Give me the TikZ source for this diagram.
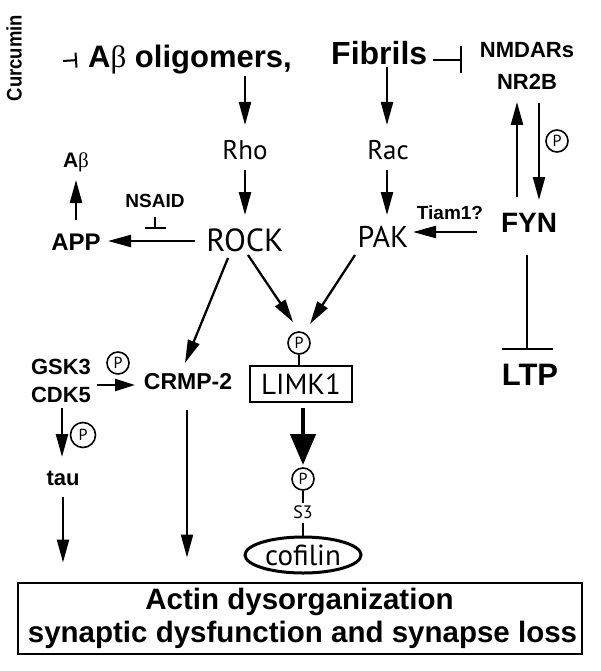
\documentclass[tikz,border=0pt]{standalone}
\usepackage{fontspec}
\setmainfont{Liberation Sans}
\newfontfamily\regf{PT Sans}
\newfontfamily\grk{Liberation Serif}
\usetikzlibrary{arrows.meta,shapes.geometric,calc}
\newcommand{\fs}[1]{\fontsize{#1}{#1}\selectfont}
\newcommand{\fsb}[2]{\fontsize{#1}{#2}\selectfont}
\begin{document}
\begin{tikzpicture}[x=1pt,y=-1pt,
  lbl/.style={inner sep=1pt},
  arr/.style={line width=2.3pt,-{Triangle[length=23pt,width=12pt]}},
  bigarr/.style={line width=4.5pt,-{Triangle[length=31pt,width=25pt]}},
  inh/.style={line width=2pt,-{Bar[width=#1]}},
  conn/.style={line width=1.6pt},
  pcirc/.style={circle,draw,line width=1.6pt,inner sep=0pt,minimum size=22pt,font=\regf\fs{16}},
]
\useasboundingbox (0,0) rectangle (600,671);

% top row
\node[lbl,rotate=90,font=\bfseries\fs{21}] (cur) at (14,58) {\scalebox{0.88}[1]{Curcumin}};
\node[lbl,anchor=base west,font=\bfseries\fs{31}] (abolig) at (87,68) {A{\grk\mdseries β} oligomers,};
\node[lbl,anchor=base west,font=\bfseries\fs{32}] (fib) at (330,65) {Fibrils};
\node[lbl,font=\bfseries\fs{22}] (nmdar) at (527,50) {NMDARs};
\node[lbl,font=\bfseries\fs{22}] (nr2b) at (527,82) {NR2B};

% second rows
\node[lbl,font=\regf\fs{27}] (rho) at (245,150) {Rho};
\node[lbl,font=\regf\fs{27}] (rac) at (388,150) {Rac};
\node[lbl,font=\regf\fs{32}] (rock) at (245,240) {ROCK};
\node[lbl,font=\regf\fs{30}] (pak) at (383,237) {PAK};
\node[lbl,font=\bfseries\fs{28}] (fyn) at (529,223) {FYN};
\node[lbl,font=\bfseries\fs{31}] (ltp) at (530,375) {LTP};
\node[lbl,font=\bfseries\fs{21}] (ab) at (76,162) {A{\grk\mdseries β}};
\node[lbl,font=\bfseries\fs{24}] (app) at (76,242) {APP};
\node[lbl,font=\bfseries\fs{19}] (nsaid) at (155,201) {NSAID};
\node[lbl,font=\bfseries\fs{19}] (tiam) at (450,213) {Tiam1?};
\node[pcirc] (pf) at (557,141) {P};

% lower part
\node[lbl,font=\bfseries\fs{22}] (gsk) at (61,367) {GSK3};
\node[pcirc] (pg) at (118,363) {P};
\node[lbl,font=\bfseries\fs{22}] (cdk) at (61,395) {CDK5};
\node[lbl,font=\bfseries\fs{23}] (crmp) at (188,382) {CRMP-2};
\node[pcirc,minimum size=25pt] (pt) at (83,435) {P};
\node[lbl,font=\bfseries\fs{22}] (tau) at (63,478) {tau};
\node[pcirc] (pl) at (299,343) {P};
\node[draw,line width=2.6pt,minimum width=102pt,minimum height=36pt,inner sep=0pt,font=\regf\fs{29}] (limk) at (301,384) {LIMK1};
\node[pcirc] (pc) at (303,479) {P};
\node[lbl,font=\regf\fs{18}] (s3) at (303,512) {S3};
\node[ellipse,draw,line width=3pt,minimum width=116pt,minimum height=36pt,inner sep=0pt,font=\regf\fs{29}] (cof) at (303,555) {cofilin};
\node[draw,line width=2pt,minimum width=564pt,minimum height=71pt,align=center,inner sep=0pt,font=\bfseries\fsb{29.5}{33}] (out) at (299.5,618) {Actin dysorganization\\ \hspace*{6pt}synaptic dysfunction and synapse loss};

% inhibitions
\draw[inh=15pt] ($(cur)+(49,3)$) -- ($(abolig.west)+(-10,0)$);
\draw[inh=27pt] ($(fib.base east)+(5,-5)$) -- ($(nmdar)+(-65,10)$);
\draw[inh=51pt] ($(fyn)+(-2,32)$) -- ($(ltp)+(-3,-25)$);
\draw[inh=21pt] ($(nsaid)+(0,16)$) -- ($(nsaid)+(0,28)$);

% activations
\draw[arr] (abolig.south -| rho) -- ($(rho)+(0,-25)$);
\draw[arr] ($(fib.south -| rac)+(-1,0)$) -- ($(rac)+(-1,-25)$);
\draw[arr] ($(rho)+(0,20)$) -- ($(rock)+(0,-25)$);
\draw[arr] ($(rac)+(-1,20)$) -- ($(pak)+(4,-22)$);
\draw[arr] ($(fyn)+(-12,-26)$) -- ($(nr2b)+(-10,20)$);
\draw[arr] ($(nr2b)+(12,21)$) -- ($(fyn)+(10,-23)$);
\draw[arr] ($(fyn)+(-52,9)$) -- ($(pak)+(30,-5)$);
\draw[arr] ($(rock)+(-50,1)$) -- ($(app)+(32,-1)$);
\draw[arr] ($(app)+(0,-22)$) -- ($(ab)+(0,18)$);
\draw[arr] ($(rock)+(-17,18)$) -- ($(crmp)+(-3,-19)$);
\draw[arr] ($(rock)+(3,15)$) -- ($(pl)+(-6,-21)$);
\draw[arr] ($(pak)+(-28,18)$) -- ($(pl)+(11,-19)$);
\draw[arr,-{Triangle[length=20pt,width=12pt]}] ($(cdk)+(36,-10)$) -- ($(crmp)+(-53,3)$);
\draw[arr] ($(cdk)+(1,13)$) -- ($(tau)+(-1,-21)$);
\draw[arr] ($(tau)+(0,19)$) -- ($(tau |- out.north)+(0,-19)$);
\draw[arr] ($(crmp)+(-1,28)$) -- ($(crmp |- out.north)+(-1,-24)$);
\draw[bigarr] ($(limk)+(2,24)$) -- ($(pc)+(0,-14)$);

% plain connections
\draw[conn] (pl.south) -- (pl.south |- limk.north);
\draw[conn] (pc.south) -- ($(s3)+(0,-9)$);
\draw[conn] ($(s3)+(0,11)$) -- (cof.north);
\end{tikzpicture}
\end{document}
